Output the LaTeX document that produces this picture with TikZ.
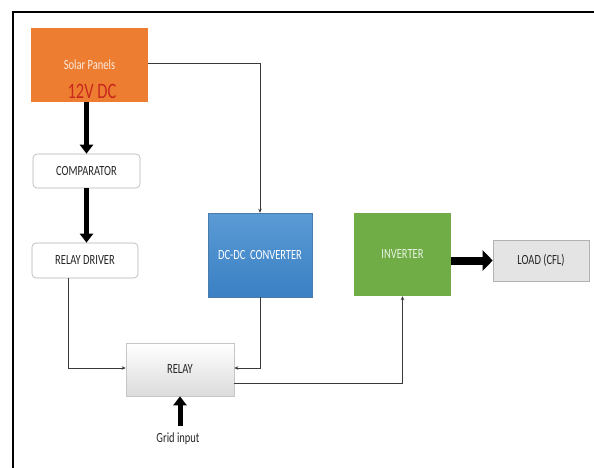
\documentclass[tikz,border=0pt]{standalone}
\usepackage{fontspec}
\newfontfamily\boxfont[FakeStretch=0.75]{Carlito}
\usetikzlibrary{arrows.meta}
\definecolor{solarorange}{HTML}{ED7D31}
\definecolor{voltred}{HTML}{C8281E}
\definecolor{convblue}{HTML}{5B9BD5}
\definecolor{convdark}{HTML}{3A80C4}
\definecolor{invgreen}{HTML}{70AD47}
\definecolor{loadgray}{HTML}{E4E4E4}
\definecolor{wiregray}{HTML}{3A3A3A}
\definecolor{textgray}{HTML}{262626}
\begin{document}
\begin{tikzpicture}[
        x=1pt, y=-1pt,
        every node/.style={font=\boxfont\fontsize{14}{16}\selectfont, text=textgray},
        blok/.style={rectangle, minimum width=#1, inner sep=0pt},
        whitebox/.style={draw=gray!60, fill=white, rounded corners=4pt, line width=0.6pt},
        fio/.style={draw=wiregray, line width=0.8pt, -{Stealth[length=4pt,width=3.5pt]}},
        grosso/.style={draw=black, line width=5pt, -{Triangle[length=9pt,width=13pt]}},
        muitogrosso/.style={draw=black, line width=8pt, -{Triangle[length=10pt,width=20pt]}}
    ]

        \useasboundingbox (0,0) rectangle (594,468);

        %--------------------------------
        % moldura
        %--------------------------------
        \draw[line width=1.5pt] (594,12) -- (13,12) -- (13,468);

        %--------------------------------
        % blocos
        %--------------------------------
        \node[blok=117pt, minimum height=74pt, fill=solarorange, text=white!85!solarorange]
            (solar) at (89.5,65) {Solar Panels};
        \node[text=voltred, font=\boxfont\fontsize{22}{24}\selectfont] (volt) at (92,91) {12V DC};

        \node[blok=107pt, minimum height=34pt, whitebox] (comp) at (86.5,171) {COMPARATOR};
        \node[blok=106pt, minimum height=35pt, whitebox] (driver) at (85,260.5) {RELAY DRIVER};

        \node[blok=104pt, minimum height=84pt, top color=convblue, bottom color=convdark,
            draw=convblue!80!black, line width=0.4pt, text=white] (conv) at (260,255) {DC-DC\, CONVERTER};
        \node[blok=97pt, minimum height=83pt, fill=invgreen, text=white!85!invgreen]
            (inv) at (402.5,254.5) {INVERTER};
        \node[blok=96pt, minimum height=41pt, fill=loadgray, draw=gray!60, line width=0.6pt]
            (load) at (541,260.5) {LOAD (CFL)};

        \node[blok=108pt, minimum height=53pt, top color=white, bottom color=gray!28,
            draw=gray!45, line width=0.6pt] (relay) at (180,369.5) {RELAY};
        \node[inner sep=1pt] (grid) at (178,439) {Grid input};

        %--------------------------------
        % ligacoes
        %--------------------------------
        \draw[grosso] (solar.south -| comp.north) -- (comp.north);
        \draw[grosso] (comp.south) -- (comp.south |- driver.north);
        \draw[muitogrosso] (inv.east |- load.west) -- (load.west);
        \draw[grosso] ([yshift=6pt]grid.north -| relay.south) -- (relay.south);

        \draw[fio] ([yshift=2pt]solar.east) -| (conv.north);
        \draw[fio] ([xshift=-17pt]driver.south) |- ([yshift=1.5pt]relay.west);
        \draw[fio] (conv.south) |- ([yshift=1.5pt]relay.east);
        \draw[fio] ([yshift=-14pt]relay.east) -| (inv.south);

    \end{tikzpicture}
\end{document}
